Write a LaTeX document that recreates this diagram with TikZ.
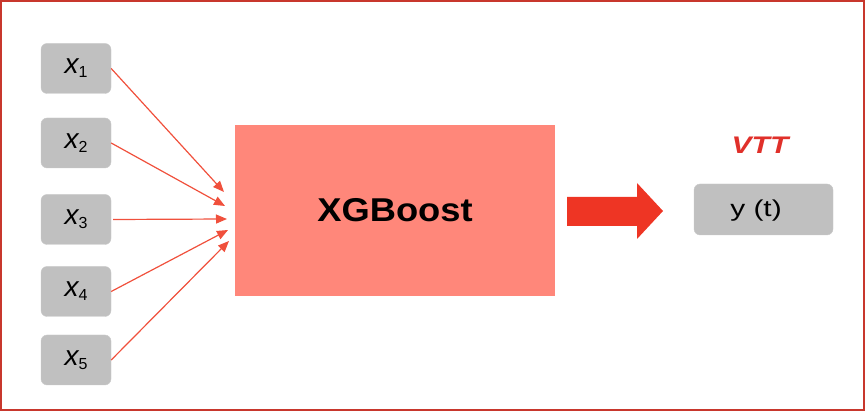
\documentclass[tikz,border=0pt]{standalone}
\usepackage{fontspec}
\setmainfont{Liberation Sans}
\usetikzlibrary{arrows.meta}
\definecolor{boxgray}{HTML}{C0C0C0}
\definecolor{salmon}{HTML}{FF877A}
\definecolor{linered}{HTML}{F0503C}
\definecolor{bigred}{HTML}{EE3524}
\definecolor{framered}{HTML}{C8372D}
\definecolor{vttred}{HTML}{E0302A}
\tikzset{
  inbox/.style={fill=boxgray, draw=boxgray!85!white, rounded corners=6pt, minimum width=70pt, minimum height=50pt, inner sep=0pt},
  feed/.style={draw=linered, line width=1.2pt, -{Triangle[length=11pt,width=9pt]}},
  xlab/.style={font=\fontsize{28}{28}\selectfont}
}
\newcommand{\xsub}[1]{{\itshape x}\raisebox{-4pt}{\fontsize{16}{16}\selectfont #1}}
\begin{document}
\begin{tikzpicture}[x=1pt,y=-1pt]
\useasboundingbox (0,0) rectangle (865,411);
\draw[framered, line width=1.6pt] (1,1) rectangle (864,410);
\node[inbox, xlab] (x1) at (76,68.5) {\xsub{1}};
\node[inbox, xlab] (x2) at (76,143) {\xsub{2}};
\node[inbox, xlab] (x3) at (76,219.5) {\xsub{3}};
\node[inbox, xlab] (x4) at (76,291.5) {\xsub{4}};
\node[inbox, xlab] (x5) at (76,360) {\xsub{5}};
\node[fill=salmon, minimum width=320pt, minimum height=171pt, inner sep=0pt] (xgb) at (395,210.5) {};
\node[font=\fontsize{33}{33}\selectfont\bfseries, xscale=1.1, transform shape] (xgbt) at (xgb) {XGBoost};
\coordinate (t1) at (224,192);
\coordinate (t2) at (225,206);
\coordinate (t3) at (227,219);
\coordinate (t4) at (228,230);
\coordinate (t5) at (229,241);
\draw[feed] (x1.east) -- (t1);
\draw[feed] (x2.east) -- (t2);
\draw[feed] ([xshift=2pt]x3.east) -- (t3);
\draw[feed] (x4.east) -- (t4);
\draw[feed] (x5.east) -- (t5);
\fill[bigred] (567,197) -- (637,197) -- (637,183) -- (663,211) -- (637,239) -- (637,226) -- (567,226) -- cycle;
\node[inbox, minimum width=139pt, minimum height=51pt] (y) at (763.5,209.5) {};
\node[font=\fontsize{23}{23}\selectfont, xscale=1.3, transform shape] (yt) at (756,211) {y (t)};
\node[text=vttred, font=\fontsize{24}{24}\selectfont\bfseries\itshape, xscale=1.25, transform shape] (vtt) at (760,145) {VTT};
\end{tikzpicture}
\end{document}
